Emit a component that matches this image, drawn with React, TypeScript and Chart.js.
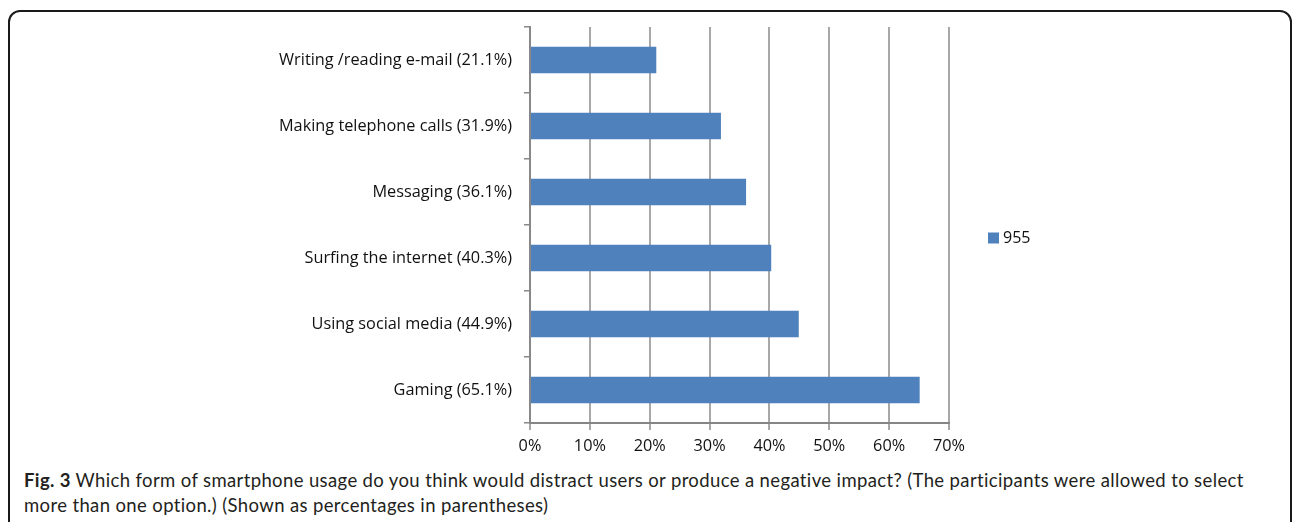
import React, { useEffect, useRef } from "react";
import { Chart, registerables } from "chart.js";

Chart.register(...registerables);

const categories: string[] = [
  "Writing /reading e-mail (21.1%)",
  "Making telephone calls (31.9%)",
  "Messaging (36.1%)",
  "Surfing the internet (40.3%)",
  "Using social media (44.9%)",
  "Gaming (65.1%)",
];
const seriesLabel = "955";
const seriesValues: number[] = [21.1, 31.9, 36.1, 40.3, 44.9, 65.1];
const xTickMin = 0;
const xTickMax = 70;
const xTickStep = 10;

const captionBold = "Fig. 3";
const captionLine1 =
  " Which form of smartphone usage do you think would distract users or produce a negative impact? (The participants were allowed to select";
const captionLine2 = "more than one option.) (Shown as percentages in parentheses)";

const BAR_COLOR = "#4f81bd";
const AXIS_FONT = "'Open Sans', Lato, sans-serif";
const CAPTION_FONT = "Lato, 'Open Sans', sans-serif";

export default function App() {
  const canvasRef = useRef<HTMLCanvasElement | null>(null);

  useEffect(() => {
    const canvas = canvasRef.current;
    if (!canvas) return;

    const legendPlugin = {
      id: "customLegend",
      afterDraw(chart: any) {
        const { ctx, chartArea } = chart;
        const ds = chart.data.datasets[0];
        const x = chartArea.right + 39;
        const cy = (chartArea.top + chartArea.bottom) / 2 + 13;
        ctx.save();
        ctx.fillStyle = ds.backgroundColor;
        ctx.fillRect(x, cy - 5.5, 11, 11);
        ctx.fillStyle = "#111";
        ctx.font = `16px ${AXIS_FONT}`;
        ctx.textBaseline = "middle";
        ctx.textAlign = "left";
        ctx.fillText(ds.label, x + 15, cy);
        ctx.restore();
      },
    };

    const chart = new Chart(canvas, {
      type: "bar",
      data: {
        labels: categories,
        datasets: [
          {
            label: seriesLabel,
            data: seriesValues,
            backgroundColor: BAR_COLOR,
            borderWidth: 0,
            barPercentage: 0.4,
            categoryPercentage: 1,
          },
        ],
      },
      options: {
        indexAxis: "y",
        responsive: false,
        animation: false,
        devicePixelRatio: 1,
        layout: { padding: { top: 15, right: 121, left: 0, bottom: 0 } },
        plugins: {
          legend: { display: false },
          tooltip: { enabled: false },
        },
        scales: {
          x: {
            min: xTickMin,
            max: xTickMax,
            ticks: {
              stepSize: xTickStep,
              callback: (v: any) => `${v}%`,
              color: "#111",
              font: { family: AXIS_FONT, size: 16.3 },
              padding: 7,
            },
            grid: {
              color: "#a8a8a8",
              lineWidth: 2,
              tickLength: 7,
              drawTicks: true,
            },
            border: { color: "#868686", width: 2 },
            afterFit: (scale: any) => {
              scale.height = 40;
            },
          },
          y: {
            ticks: {
              color: "#111",
              font: { family: AXIS_FONT, size: 16.3 },
              padding: 12,
            },
            grid: {
              drawOnChartArea: false,
              drawTicks: true,
              tickLength: 6,
              color: "#888",
              lineWidth: 1.5,
              offset: true,
            },
            border: { color: "#888", width: 2 },
            afterFit: (scale: any) => {
              scale.width = 520;
              scale.paddingTop = 0;
              scale.paddingBottom = 0;
            },
          },
        },
      },
      plugins: [legendPlugin],
    } as any);

    return () => chart.destroy();
  }, []);

  return (
    <div
      style={{
        position: "fixed",
        inset: 0,
        overflow: "hidden",
        background: "#fff",
      }}
    >
      <div
        style={{
          position: "absolute",
          left: 8,
          top: 10,
          width: 1284,
          height: 600,
          boxSizing: "border-box",
          border: "2px solid #1a1a1a",
          borderRadius: 12,
        }}
      >
        <canvas
          ref={canvasRef}
          width={1060}
          height={451}
          style={{ position: "absolute", left: 0, top: 0, width: 1060, height: 451 }}
        />
        <div
          style={{
            position: "absolute",
            left: 14,
            top: 456,
            fontFamily: CAPTION_FONT,
            fontSize: 18.5,
            letterSpacing: "0.37px",
            lineHeight: "25px",
            color: "#231f20",
            whiteSpace: "nowrap",
          }}
        >
          <b>{captionBold}</b>
          {captionLine1}
          <br />
          {captionLine2}
        </div>
      </div>
    </div>
  );
}
